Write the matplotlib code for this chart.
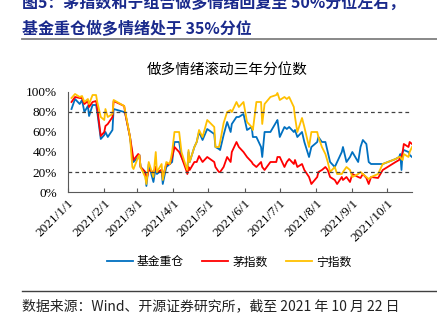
import matplotlib
matplotlib.use("Agg")
import matplotlib.pyplot as plt
from matplotlib.lines import Line2D
from matplotlib.ticker import PercentFormatter
import pandas as pd

plt.rcParams['font.family'] = ['Liberation Serif', 'Noto Sans CJK SC']

# data (percentile, %)
dates = ["2021-01-04", "2021-01-07", "2021-01-11", "2021-01-13", "2021-01-15", "2021-01-18",
         "2021-01-19", "2021-01-22", "2021-01-25", "2021-01-26", "2021-01-29", "2021-02-01",
         "2021-02-02", "2021-02-04", "2021-02-08", "2021-02-09", "2021-02-18", "2021-02-19",
         "2021-02-23", "2021-02-25", "2021-02-26", "2021-03-02", "2021-03-03", "2021-03-04",
         "2021-03-08", "2021-03-09", "2021-03-11", "2021-03-15", "2021-03-17", "2021-03-18",
         "2021-03-22", "2021-03-23", "2021-03-26", "2021-03-29", "2021-03-31", "2021-04-02",
         "2021-04-06", "2021-04-08", "2021-04-12", "2021-04-13", "2021-04-14", "2021-04-15",
         "2021-04-19", "2021-04-21", "2021-04-23", "2021-04-26", "2021-04-30", "2021-05-06",
         "2021-05-07", "2021-05-10", "2021-05-11", "2021-05-14", "2021-05-17", "2021-05-20",
         "2021-05-21", "2021-05-25", "2021-05-27", "2021-05-31", "2021-06-03", "2021-06-07",
         "2021-06-08", "2021-06-11", "2021-06-15", "2021-06-16", "2021-06-18", "2021-06-23",
         "2021-06-28", "2021-06-29", "2021-07-01", "2021-07-05", "2021-07-07", "2021-07-09",
         "2021-07-13", "2021-07-14", "2021-07-16", "2021-07-20", "2021-07-22", "2021-07-26",
         "2021-07-28", "2021-08-02", "2021-08-03", "2021-08-06", "2021-08-09", "2021-08-11",
         "2021-08-13", "2021-08-17", "2021-08-19", "2021-08-23", "2021-08-24", "2021-08-27",
         "2021-08-30", "2021-09-01", "2021-09-06", "2021-09-08", "2021-09-10", "2021-09-13",
         "2021-09-15", "2021-09-17", "2021-09-23", "2021-09-27", "2021-10-08", "2021-10-11",
         "2021-10-12", "2021-10-13", "2021-10-14", "2021-10-15", "2021-10-19", "2021-10-20",
         "2021-10-22"]

fund_heavy = [83, 93, 88, 92, 80, 86, 76, 87, 87, 80, 53, 57,
              60, 55, 62, 83, 80, 78, 55, 35, 30, 35, 37, 25,
              20, 6, 28, 10, 25, 18, 22, 8, 25, 28, 30, 50,
              50, 35, 25, 22, 40, 30, 45, 50, 60, 52, 63, 58,
              45, 43, 42, 57, 70, 60, 68, 75, 75, 78, 62, 65,
              55, 55, 45, 35, 60, 60, 70, 72, 55, 65, 63, 65,
              60, 62, 55, 60, 50, 35, 45, 50, 55, 50, 50, 40,
              30, 25, 30, 40, 45, 30, 35, 40, 30, 45, 52, 48,
              30, 28, 28, 28, 33, 35, 38, 22, 40, 42, 40, 37,
              35]

mao_index = [90, 95, 94, 94, 88, 91, 85, 90, 91, 84, 56, 60,
             66, 68, 75, 91, 86, 78, 55, 40, 32, 38, 37, 25,
             20, 12, 22, 20, 25, 20, 22, 15, 28, 28, 35, 45,
             40, 35, 22, 18, 25, 22, 30, 30, 36, 30, 35, 30,
             25, 20, 20, 25, 35, 30, 40, 50, 45, 40, 35, 30,
             28, 25, 30, 25, 22, 30, 30, 35, 35, 25, 30, 33,
             28, 32, 25, 28, 22, 15, 8, 15, 20, 22, 25, 22,
             15, 12, 8, 15, 12, 15, 10, 18, 15, 14, 18, 14,
             8, 15, 14, 22, 30, 32, 35, 35, 40, 48, 45, 50,
             48]

ning_index = [94, 98, 95, 96, 90, 93, 88, 97, 97, 90, 75, 72,
              83, 75, 78, 92, 86, 80, 55, 25, 23, 35, 37, 25,
              15, 8, 30, 15, 40, 20, 28, 12, 30, 28, 40, 60,
              60, 40, 25, 22, 42, 30, 45, 50, 62, 55, 72, 65,
              45, 45, 50, 69, 80, 82, 80, 90, 85, 90, 70, 65,
              62, 90, 90, 68, 88, 95, 97, 99, 92, 95, 93, 95,
              85, 75, 60, 74, 65, 45, 60, 60, 55, 45, 38, 30,
              20, 25, 18, 18, 20, 25, 22, 15, 18, 20, 18, 15,
              13, 15, 18, 28, 33, 35, 35, 33, 32, 38, 35, 40,
              45]

series_names = ["基金重仓", "茅指数", "宁指数"]
series_colors = ["#0070C0", "#FF0000", "#FFC000"]
tick_dates = ["2021-%02d-01" % m for m in range(1, 11)]
tick_labels = ["2021/%d/1" % m for m in range(1, 11)]

x = pd.to_datetime(dates)
cjk = ["Noto Sans CJK SC", "DejaVu Sans"]

fig = plt.figure(figsize=(4.37, 3.25), dpi=100)
W, H = 437.0, 325.0

# report header (first line is cut by the top edge, as in the page)
head_color = "#1a2a8c"
fig.text(22 / W, 1 - 3 / H, "图5：茅指数和宁组合做多情绪回复至 50%分位左右，",
         fontsize=11.5, fontweight="bold", color=head_color, va="center", ha="left", family=cjk)
fig.text(22 / W, 1 - 28.5 / H, "基金重仓做多情绪处于 35%分位",
         fontsize=11.5, fontweight="bold", color=head_color, va="center", ha="left", family=cjk)
fig.add_artist(Line2D([22 / W, 1], [1 - 38.5 / H] * 2, color="#7f7f7f", lw=1.3))

ax = fig.add_axes([68 / W, 1 - 192 / H, (412 - 68) / W, (192 - 92) / H])
for vals, name, col in zip([fund_heavy, mao_index, ning_index], series_names, series_colors):
    ax.plot(x, [v / 100 for v in vals], color=col, lw=1.3, label=name)

ax.axhline(0.8, color="#404040", lw=0.9, ls=(0, (3, 2.5)))
ax.axhline(0.2, color="#404040", lw=0.9, ls=(0, (3, 2.5)))

ax.set_ylim(0, 1)
ax.set_yticks([0, 0.2, 0.4, 0.6, 0.8, 1.0])
ax.yaxis.set_major_formatter(PercentFormatter(1.0, decimals=0))
ax.set_xlim(pd.Timestamp("2021-01-01"), pd.Timestamp("2021-10-22"))
ax.set_xticks(pd.to_datetime(tick_dates))
ax.set_xticklabels(tick_labels, rotation=45, ha="right", rotation_mode="anchor")

ax.spines["top"].set_visible(False)
ax.spines["right"].set_visible(False)
ax.spines["left"].set_color("#595959")
ax.spines["bottom"].set_color("#595959")
ax.tick_params(axis="y", length=0, pad=8, labelsize=9.5)
ax.tick_params(axis="x", direction="in", length=3, color="#595959", pad=4, labelsize=9.5)

fig.text(227 / W, 1 - 70 / H, "做多情绪滚动三年分位数", fontsize=10.5, ha="center", va="center",
         family=cjk)

fig.legend(loc="center", bbox_to_anchor=(229 / W, 1 - 262 / H), ncol=3, frameon=False,
           handlelength=2.2, handletextpad=0.3, columnspacing=1.6,
           prop={"family": cjk, "size": 8.5})

# footer
fig.add_artist(Line2D([22 / W, 1], [1 - 291 / H] * 2, color="#404040", lw=1.0))
fig.text(22 / W, 1 - 306 / H, "数据来源：Wind、开源证券研究所，截至 2021 年 10 月 22 日",
         fontsize=10, ha="left", va="center", color="#222222", family=cjk)

fig.savefig("out.png", dpi=100)
